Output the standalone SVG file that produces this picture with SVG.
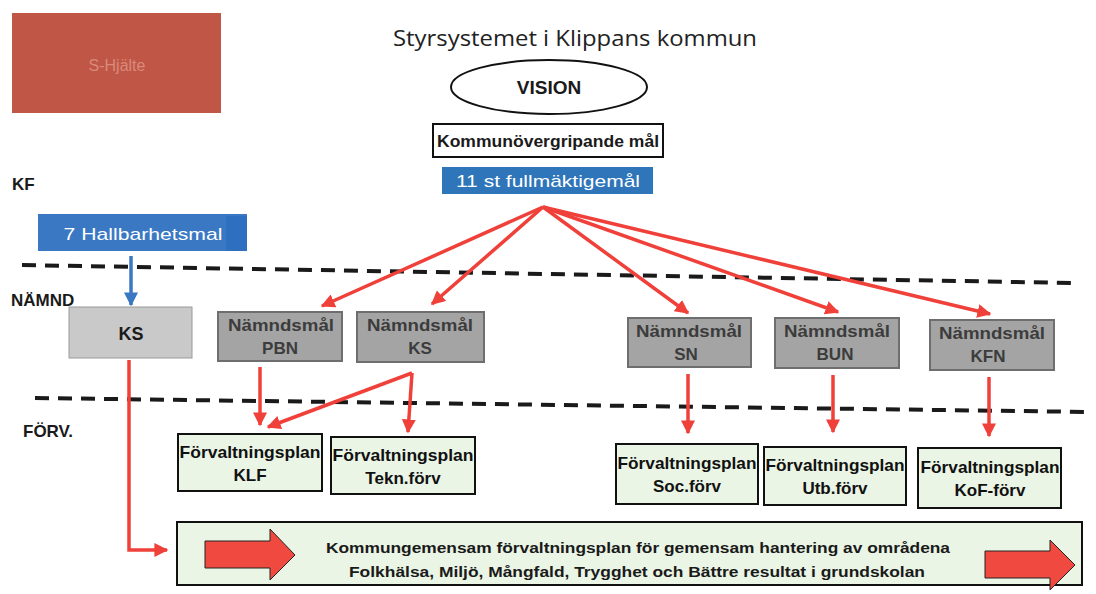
<svg xmlns="http://www.w3.org/2000/svg" width="1096" height="594" viewBox="0 0 1096 594">
<defs>
<style>
.lbl{font-family:"Liberation Sans",Arial,sans-serif;font-weight:bold;fill:#1a1a1a}
.nm{fill:#a4a4a4;stroke:#6e6e6e;stroke-width:2}
.nmt{font-family:"Liberation Sans",Arial,sans-serif;font-weight:bold;font-size:17px;fill:#3c3c3c;text-anchor:middle}
.fp{fill:#eaf5e5;stroke:#111;stroke-width:2}
.fpt{font-family:"Liberation Sans",Arial,sans-serif;font-weight:bold;font-size:17px;fill:#111;text-anchor:middle}
.red{stroke:#f0403a;stroke-width:3.5;fill:none}
.dash{stroke:#1a1a1a;stroke-width:4;stroke-dasharray:14 9;fill:none}
</style>
<marker id="ar" viewBox="0 0 10 10" refX="9" refY="5" markerWidth="4" markerHeight="4" orient="auto" markerUnits="strokeWidth">
<path d="M0,0 L10,5 L0,10 z" fill="#f0403a"/>
</marker>
<marker id="ab" viewBox="0 0 10 10" refX="9" refY="5" markerWidth="4" markerHeight="4" orient="auto" markerUnits="strokeWidth">
<path d="M0,0 L10,5 L0,10 z" fill="#3a78c3"/>
</marker>
</defs>
<rect width="1096" height="594" fill="#ffffff"/>

<g id="redbox">
<rect x="12" y="13" width="209" height="100" fill="#c05646"/>
<text x="117" y="71" font-family="Liberation Sans,Arial,sans-serif" font-size="16" fill="#d98a7a" text-anchor="middle">S-Hjälte</text>
</g>

<g id="title">
<text x="575" y="46" font-family="Open Sans,Liberation Sans,sans-serif" font-size="22" fill="#222" text-anchor="middle" textLength="364" lengthAdjust="spacingAndGlyphs">Styrsystemet i Klippans kommun</text>
</g>

<g id="vision">
<ellipse cx="549" cy="87" rx="98" ry="27" fill="#fff" stroke="#111" stroke-width="2"/>
<text x="549" y="94" class="lbl" font-size="19" text-anchor="middle">VISION</text>
</g>

<g id="kommunovergripande">
<rect x="433" y="124" width="230" height="33" fill="#fff" stroke="#111" stroke-width="2"/>
<text x="548" y="147" class="lbl" font-size="16" text-anchor="middle" textLength="222" lengthAdjust="spacingAndGlyphs">Kommunövergripande mål</text>
</g>

<g id="fullmaktigemal">
<rect x="442" y="167" width="211" height="27" fill="#2e75b9"/>
<text x="548" y="187" font-family="Liberation Sans,Arial,sans-serif" font-size="17" fill="#fff" text-anchor="middle" textLength="184" lengthAdjust="spacingAndGlyphs">11 st fullmäktigemål</text>
</g>

<g id="labels">
<text x="12" y="190" class="lbl" font-size="17">KF</text>
<text x="11" y="306" class="lbl" font-size="17">NÄMND</text>
<text x="23" y="437" class="lbl" font-size="17">FÖRV.</text>
</g>

<g id="hallbarhet">
<rect x="38" y="214" width="209" height="37" fill="#3a78c3"/>
<rect x="226" y="216" width="21" height="35" fill="#2f6fc0"/>
<text x="143" y="240" font-family="Liberation Sans,Arial,sans-serif" font-size="17" fill="#fff" text-anchor="middle" textLength="159" lengthAdjust="spacingAndGlyphs">7 Hallbarhetsmal</text>
</g>

<g id="dividers">
<path class="dash" d="M22,265 L1075,283"/>
<path class="dash" d="M35,398 L1090,412"/>
</g>

<g id="ks">
<rect x="69" y="307" width="123" height="51" fill="#c9c9c9" stroke="#9a9a9a" stroke-width="1"/>
<text x="131" y="340" class="lbl" font-size="18" fill="#333" text-anchor="middle">KS</text>
</g>

<g id="nm-pbn">
<rect class="nm" x="218" y="312" width="124" height="49"/>
<text class="nmt" x="281" y="331" textLength="106" lengthAdjust="spacingAndGlyphs">Nämndsmål</text>
<text class="nmt" x="280" y="354">PBN</text>
</g>
<g id="nm-ks">
<rect class="nm" x="357" y="312" width="127" height="50"/>
<text class="nmt" x="420" y="331" textLength="106" lengthAdjust="spacingAndGlyphs">Nämndsmål</text>
<text class="nmt" x="420" y="354">KS</text>
</g>
<g id="nm-sn">
<rect class="nm" x="628" y="318" width="123" height="49"/>
<text class="nmt" x="689" y="337" textLength="106" lengthAdjust="spacingAndGlyphs">Nämndsmål</text>
<text class="nmt" x="686" y="360">SN</text>
</g>
<g id="nm-bun">
<rect class="nm" x="775" y="318" width="124" height="50"/>
<text class="nmt" x="837" y="337" textLength="106" lengthAdjust="spacingAndGlyphs">Nämndsmål</text>
<text class="nmt" x="835" y="360">BUN</text>
</g>
<g id="nm-kfn">
<rect class="nm" x="930" y="320" width="124" height="50"/>
<text class="nmt" x="992" y="339" textLength="106" lengthAdjust="spacingAndGlyphs">Nämndsmål</text>
<text class="nmt" x="988" y="362">KFN</text>
</g>

<g id="fp-klf">
<rect class="fp" x="178" y="434" width="144" height="57"/>
<text class="fpt" x="250" y="458" textLength="141" lengthAdjust="spacingAndGlyphs">Förvaltningsplan</text>
<text class="fpt" x="250" y="481">KLF</text>
</g>
<g id="fp-tekn">
<rect class="fp" x="331" y="437" width="144" height="57"/>
<text class="fpt" x="403" y="461" textLength="141" lengthAdjust="spacingAndGlyphs">Förvaltningsplan</text>
<text class="fpt" x="403" y="484">Tekn.förv</text>
</g>
<g id="fp-soc">
<rect class="fp" x="616" y="444" width="142" height="60"/>
<text class="fpt" x="687" y="469" textLength="139" lengthAdjust="spacingAndGlyphs">Förvaltningsplan</text>
<text class="fpt" x="687" y="492">Soc.förv</text>
</g>
<g id="fp-utb">
<rect class="fp" x="764" y="447" width="142" height="58"/>
<text class="fpt" x="835" y="471" textLength="139" lengthAdjust="spacingAndGlyphs">Förvaltningsplan</text>
<text class="fpt" x="835" y="494">Utb.förv</text>
</g>
<g id="fp-kof">
<rect class="fp" x="918" y="448" width="143" height="60"/>
<text class="fpt" x="990" y="473" textLength="139" lengthAdjust="spacingAndGlyphs">Förvaltningsplan</text>
<text class="fpt" x="990" y="496">KoF-förv</text>
</g>

<g id="kommungemensam">
<rect class="fp" x="177" y="522" width="905" height="63"/>
<path d="M205,541 L270,541 L270,529 L295,555 L270,580 L270,568 L205,568 z" fill="#f04a40" stroke="#222" stroke-width="1"/>
<path d="M985,551 L1050,551 L1050,540 L1075,565 L1050,590 L1050,578 L985,578 z" fill="#f04a40" stroke="#222" stroke-width="1"/>
<text x="638" y="553" class="lbl" font-size="14" text-anchor="middle" textLength="624" lengthAdjust="spacingAndGlyphs">Kommungemensam förvaltningsplan för gemensam hantering av områdena</text>
<text x="637" y="577" class="lbl" font-size="14" text-anchor="middle" textLength="576" lengthAdjust="spacingAndGlyphs">Folkhälsa, Miljö, Mångfald, Trygghet och Bättre resultat i grundskolan</text>
</g>

<g id="connectors">
<path d="M131,256 L131,305" stroke="#3a78c3" stroke-width="3.5" fill="none" marker-end="url(#ab)"/>
<path class="red" d="M543,207 L322,306" marker-end="url(#ar)"/>
<path class="red" d="M543,207 L432,304" marker-end="url(#ar)"/>
<path class="red" d="M543,207 L688,313" marker-end="url(#ar)"/>
<path class="red" d="M543,207 L838,312" marker-end="url(#ar)"/>
<path class="red" d="M543,207 L990,314" marker-end="url(#ar)"/>
<path class="red" d="M260,367 L260,425" marker-end="url(#ar)"/>
<path class="red" d="M412,373 L268,427" marker-end="url(#ar)"/>
<path class="red" d="M412,373 L408,432" marker-end="url(#ar)"/>
<path class="red" d="M688,374 L688,433" marker-end="url(#ar)"/>
<path class="red" d="M833,375 L833,432" marker-end="url(#ar)"/>
<path class="red" d="M989,377 L989,436" marker-end="url(#ar)"/>
<path class="red" d="M129,360 L129,550 L167,550" marker-end="url(#ar)"/>
</g>
</svg>
